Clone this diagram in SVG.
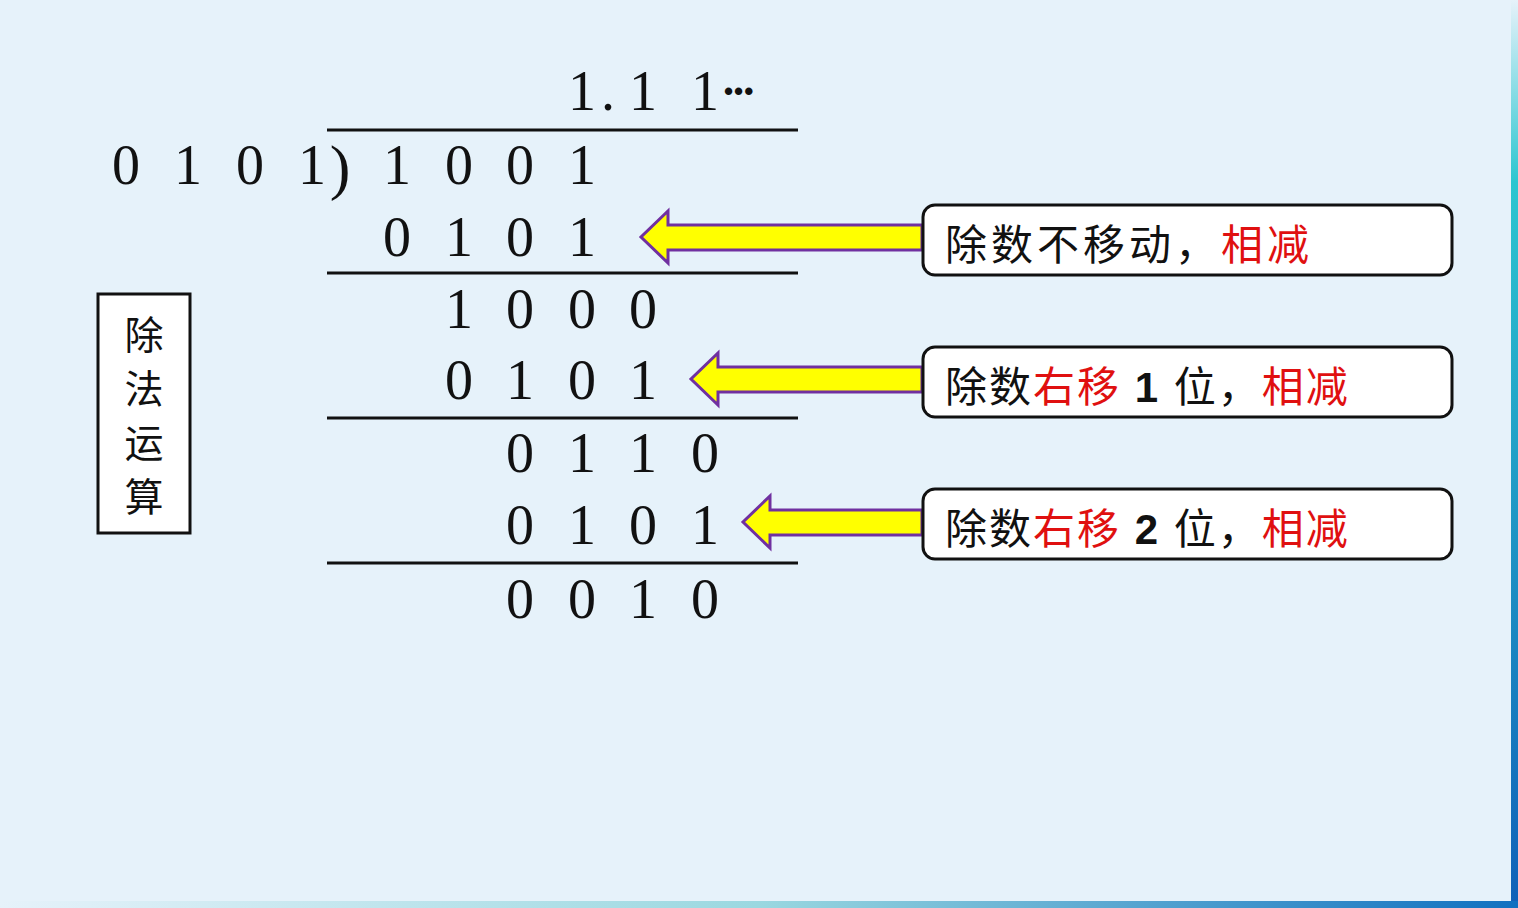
<svg xmlns="http://www.w3.org/2000/svg" width="1518" height="908" viewBox="0 0 1518 908">
<defs>
<linearGradient id="edge" x1="0" y1="0" x2="0" y2="1"><stop offset="0" stop-color="#e6f2fa"/><stop offset="0.2" stop-color="#2cc6d0"/><stop offset="1" stop-color="#1060b8"/></linearGradient>
<linearGradient id="bot" x1="0" y1="0" x2="1" y2="0"><stop offset="0" stop-color="#e6f2fa"/><stop offset="0.5" stop-color="#9ad8e0"/><stop offset="1" stop-color="#1070c0"/></linearGradient>
</defs>
<style>
.d{font-family:"Liberation Serif",serif;font-size:56px;fill:#111;text-anchor:middle}
.c{font-family:"Noto Sans CJK SC",sans-serif;font-size:42px;fill:#111}
.v{font-size:39px}
.t{letter-spacing:4px}
.t2{letter-spacing:2px}
.r{fill:#e01010}
.b{font-family:"Liberation Sans","Noto Sans CJK SC",sans-serif;font-weight:bold}
.ln{stroke:#111;stroke-width:3}
.box{fill:#fff;stroke:#111;stroke-width:3}
.arr{fill:#ffff00;stroke:#7030a0;stroke-width:3}
</style>
<rect width="1518" height="908" fill="#e6f2fa"/>
<rect x="1511" y="0" width="7" height="908" fill="url(#edge)"/>
<rect x="0" y="901" width="1518" height="7" fill="url(#bot)"/>
<g id="numbers">
<text class="d" x="582" y="110">1</text><text class="d" x="608" y="110">.</text><text class="d" x="643" y="110">1</text><text class="d" x="705" y="110">1</text>
<text x="724" y="100" style="font-family:'Liberation Sans',sans-serif;font-size:26px;font-weight:bold;fill:#111;letter-spacing:1px">•••</text>
<text class="d" x="126" y="184">0</text><text class="d" x="188" y="184">1</text><text class="d" x="250" y="184">0</text><text class="d" x="312" y="184">1</text><text class="d" x="340" y="188" style="font-size:62px">)</text>
<text class="d" x="397" y="184">1</text><text class="d" x="459" y="184">0</text><text class="d" x="520" y="184">0</text><text class="d" x="582" y="184">1</text>
<text class="d" x="397" y="256">0</text><text class="d" x="459" y="256">1</text><text class="d" x="520" y="256">0</text><text class="d" x="582" y="256">1</text>
<text class="d" x="459" y="328">1</text><text class="d" x="520" y="328">0</text><text class="d" x="582" y="328">0</text><text class="d" x="643" y="328">0</text>
<text class="d" x="459" y="399">0</text><text class="d" x="520" y="399">1</text><text class="d" x="582" y="399">0</text><text class="d" x="643" y="399">1</text>
<text class="d" x="520" y="472">0</text><text class="d" x="582" y="472">1</text><text class="d" x="643" y="472">1</text><text class="d" x="705" y="472">0</text>
<text class="d" x="520" y="544">0</text><text class="d" x="582" y="544">1</text><text class="d" x="643" y="544">0</text><text class="d" x="705" y="544">1</text>
<text class="d" x="520" y="618">0</text><text class="d" x="582" y="618">0</text><text class="d" x="643" y="618">1</text><text class="d" x="705" y="618">0</text>
</g>
<g id="lines">
<line class="ln" x1="327" y1="130" x2="798" y2="130"/>
<line class="ln" x1="327" y1="273" x2="798" y2="273"/>
<line class="ln" x1="327" y1="418" x2="798" y2="418"/>
<line class="ln" x1="327" y1="563" x2="798" y2="563"/>
</g>
<g id="label">
<rect x="98" y="294" width="92" height="239" fill="#fff" stroke="#111" stroke-width="3"/>
<text class="c v" x="144" y="349" text-anchor="middle">除</text>
<text class="c v" x="144" y="403" text-anchor="middle">法</text>
<text class="c v" x="144" y="457" text-anchor="middle">运</text>
<text class="c v" x="144" y="511" text-anchor="middle">算</text>
</g>
<g id="connectors">
<polygon class="arr" points="922,225 668,225 668,211 641,237 668,263 668,250 922,250"/>
<polygon class="arr" points="922,367 718,367 718,353 691,379 718,405 718,392 922,392"/>
<polygon class="arr" points="922,510 770,510 770,496 743,522 770,548 770,535 922,535"/>
</g>
<g id="n1"><rect class="box" x="923" y="205" width="529" height="70" rx="12"/>
<text class="c t" x="945" y="260">除数不移动，<tspan class="r">相减</tspan></text></g>
<g id="n2"><rect class="box" x="923" y="347" width="529" height="70" rx="12"/>
<text class="c t2" x="945" y="402">除数<tspan class="r">右移</tspan><tspan class="b"> 1 </tspan>位，<tspan class="r">相减</tspan></text></g>
<g id="n3"><rect class="box" x="923" y="489" width="529" height="70" rx="12"/>
<text class="c t2" x="945" y="544">除数<tspan class="r">右移</tspan><tspan class="b"> 2 </tspan>位，<tspan class="r">相减</tspan></text></g>
</svg>
